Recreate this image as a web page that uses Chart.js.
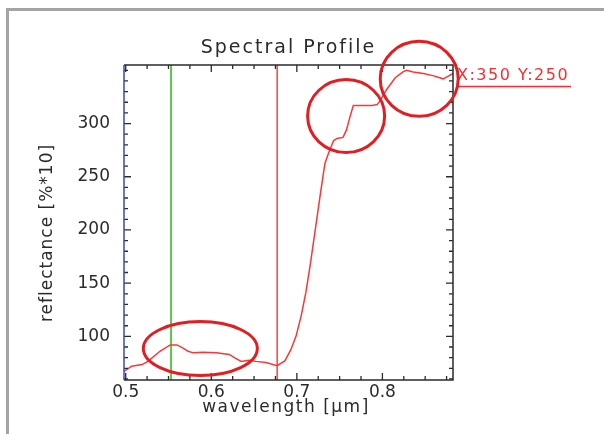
<!DOCTYPE html>
<html>
<head>
<meta charset="utf-8">
<script src="https://cdn.jsdelivr.net/npm/chart.js@4/dist/chart.umd.min.js"></script>
<style>
  html, body { margin: 0; padding: 0; background: #fff; }
  #wrap { position: relative; width: 604px; height: 434px; overflow: hidden; }
  #frame { position: absolute; left: 6px; top: 8px; width: 700px; height: 500px;
           border-left: 3px solid #a4a4a4; border-top: 3px solid #a4a4a4; }
  canvas { position: absolute; left: 0; top: 0; }
</style>
</head>
<body>
<div id="wrap">
  <div id="frame"></div>
  <canvas id="profile" width="604" height="434"></canvas>
</div>
<script>
// spectral profile of one pixel
const wavelengths = [0.498, 0.507, 0.519, 0.526, 0.540, 0.552, 0.560, 0.567, 0.573, 0.579,
  0.590, 0.606, 0.621, 0.627, 0.635, 0.644, 0.652, 0.664, 0.677, 0.686,
  0.693, 0.699, 0.705, 0.7105, 0.716, 0.7215, 0.727, 0.731, 0.733, 0.737,
  0.743, 0.747, 0.754, 0.758, 0.762, 0.766, 0.776, 0.788, 0.794, 0.797,
  0.805, 0.815, 0.824, 0.828, 0.836, 0.848, 0.859, 0.871, 0.877, 0.8825];
const reflectance = [67, 72, 73.5, 76.5, 86, 92, 92, 89, 86, 84.5,
  85, 84.5, 83, 80, 76.5, 77.5, 76.5, 75.5, 72.5, 77,
  87.5, 100, 119, 141, 169, 200, 231, 253, 263, 272,
  284, 286, 287, 294, 306, 317, 317, 317, 318, 321,
  332, 343, 348.5, 350, 348.5, 347, 345, 342, 344.5, 347];

// display bands (green and red channel markers)
const greenBand = 0.553;
const redBand = 0.677;

const xRange = [0.498, 0.8825];
const yRange = [59, 355];
const xLabels = [0.5, 0.6, 0.7, 0.8];
const yLabels = [100, 150, 200, 250, 300];

const cursorText = 'X:350 Y:250';

// hand-drawn highlight rings: centre in data units, radii in px
const rings = [
  { x: 0.5872, y: 88.5, rx: 57, ry: 27 },
  { x: 0.7576, y: 307, rx: 38.5, ry: 36.5 },
  { x: 0.843, y: 342, rx: 39, ry: 37.5 }
];

const ink = '#2b2b2b';

const frameAndTicks = {
  id: 'frameAndTicks',
  afterDatasetsDraw(chart) {
    const { ctx, chartArea: a, scales: { x, y } } = chart;
    ctx.save();

    // inward ticks on all four sides
    ctx.strokeStyle = ink;
    ctx.lineWidth = 1.3;
    ctx.beginPath();
    for (let i = 0; ; i++) {
      const v = 0.5 + i * 0.025;
      if (v > xRange[1]) break;
      const px = x.getPixelForValue(v);
      const len = i % 4 === 0 ? 7 : 4;
      ctx.moveTo(px, a.bottom); ctx.lineTo(px, a.bottom - len);
      ctx.moveTo(px, a.top); ctx.lineTo(px, a.top + len);
    }
    for (let v = 60; v <= yRange[1]; v += 10) {
      const py = y.getPixelForValue(v);
      const len = v % 50 === 0 && v <= 300 ? 7 : 4;
      ctx.moveTo(a.left, py); ctx.lineTo(a.left + len, py);
      ctx.moveTo(a.right, py); ctx.lineTo(a.right - len, py);
    }
    ctx.stroke();

    // box
    ctx.lineWidth = 1.5;
    ctx.beginPath();
    ctx.moveTo(a.left, a.top); ctx.lineTo(a.right, a.top);
    ctx.lineTo(a.right, a.bottom); ctx.lineTo(a.left, a.bottom);
    ctx.stroke();
    ctx.strokeStyle = '#3c48b0';
    ctx.beginPath();
    ctx.moveTo(a.left, a.top); ctx.lineTo(a.left, a.bottom);
    ctx.stroke();

    // texts
    ctx.fillStyle = ink;
    ctx.textAlign = 'center';
    ctx.textBaseline = 'middle';
    ctx.font = '19px "DejaVu Sans"';
    ctx.letterSpacing = '2px';
    ctx.fillText('Spectral Profile', (a.left + a.right) / 2, 48);

    ctx.font = '17px "DejaVu Sans"';
    ctx.letterSpacing = '1.5px';
    ctx.fillText('wavelength [μm]', 286, 408);

    ctx.save();
    ctx.translate(48, 233);
    ctx.rotate(-Math.PI / 2);
    ctx.letterSpacing = '1px';
    ctx.fillText('reflectance [%*10]', 0, 0);
    ctx.restore();

    // cursor readout
    ctx.fillStyle = '#ff2a2a';
    ctx.strokeStyle = '#ff2a2a';
    ctx.textAlign = 'left';
    ctx.font = '16px "DejaVu Sans"';
    ctx.letterSpacing = '1.5px';
    ctx.fillText(cursorText, 457, 76);
    ctx.lineWidth = 1.5;
    ctx.beginPath();
    ctx.moveTo(457, 86.5); ctx.lineTo(571, 86.5);
    ctx.stroke();

    // highlight rings
    ctx.strokeStyle = '#e41d22';
    ctx.lineWidth = 3;
    rings.forEach(r => {
      ctx.beginPath();
      ctx.ellipse(x.getPixelForValue(r.x), y.getPixelForValue(r.y), r.rx, r.ry, 0, 0, Math.PI * 2);
      ctx.stroke();
    });
    ctx.restore();
  }
};

new Chart(document.getElementById('profile'), {
  type: 'line',
  data: {
    datasets: [
      {
        data: wavelengths.map((w, i) => ({ x: w, y: reflectance[i] })),
        borderColor: '#ff3535',
        borderWidth: 1.5
      },
      {
        data: [{ x: greenBand, y: yRange[0] }, { x: greenBand, y: yRange[1] }],
        borderColor: '#5ec24c',
        borderWidth: 2
      },
      {
        data: [{ x: redBand, y: yRange[0] }, { x: redBand, y: yRange[1] }],
        borderColor: '#ff3f3f',
        borderWidth: 1.5
      }
    ]
  },
  options: {
    responsive: false,
    animation: false,
    layout: { padding: { left: 0, top: 65, right: 151, bottom: 0 } },
    elements: { point: { radius: 0 }, line: { tension: 0 } },
    plugins: { legend: { display: false }, tooltip: { enabled: false } },
    scales: {
      x: {
        type: 'linear',
        min: xRange[0],
        max: xRange[1],
        grid: { display: false, drawTicks: false, tickLength: 0 },
        border: { display: false },
        afterBuildTicks: s => { s.ticks = xLabels.map(v => ({ value: v })); },
        afterFit: s => { s.height = 54; },
        ticks: {
          color: ink,
          padding: 2,
          maxRotation: 0,
          font: { family: 'DejaVu Sans', size: 17 },
          callback: v => v.toFixed(1)
        }
      },
      y: {
        type: 'linear',
        min: yRange[0],
        max: yRange[1],
        grid: { display: false, drawTicks: false, tickLength: 0 },
        border: { display: false },
        afterBuildTicks: s => { s.ticks = yLabels.map(v => ({ value: v })); },
        afterFit: s => { s.width = 124; },
        ticks: {
          color: ink,
          padding: 14,
          font: { family: 'DejaVu Sans', size: 17 }
        }
      }
    }
  },
  plugins: [frameAndTicks]
});
</script>
</body>
</html>
